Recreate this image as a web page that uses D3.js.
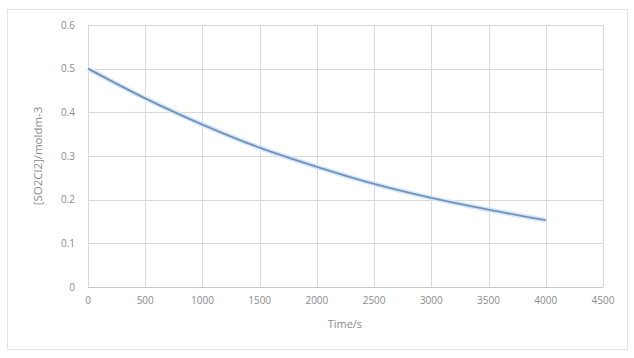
<!DOCTYPE html>
<html>
<head>
<meta charset="utf-8">
<script src="https://cdn.jsdelivr.net/npm/d3@7"></script>
<style>
  body { margin: 0; background: #fff; }
  svg { display: block; }
  text { font-family: 'Open Sans', 'Liberation Sans', sans-serif; fill: #8a8a8a; }
</style>
</head>
<body>
<svg id="chart"></svg>
<script>
// data
const times = [0, 500, 1000, 1500, 2000, 2500, 3000, 3500, 4000];
const concs = [0.5, 0.432, 0.372, 0.319, 0.275, 0.236, 0.204, 0.177, 0.153];
const xTicks = [0, 500, 1000, 1500, 2000, 2500, 3000, 3500, 4000, 4500];
const yTicks = [0, 0.1, 0.2, 0.3, 0.4, 0.5, 0.6];

const width = 634, height = 358;
const svg = d3.select('#chart').attr('width', width).attr('height', height);

// outer chart frame
svg.append('rect')
  .attr('x', 7.5).attr('y', 9.5)
  .attr('width', 620).attr('height', 340)
  .attr('fill', '#fff')
  .attr('stroke', '#e4e4e4');

const x = d3.scaleLinear().domain([0, 4500]).range([88, 603]);
const y = d3.scaleLinear().domain([0, 0.6]).range([287, 25]);

// gridlines
svg.append('g').selectAll('line.v')
  .data(xTicks)
  .enter().append('line')
  .attr('x1', (d) => Math.round(x(d)) + 0.5).attr('x2', (d) => Math.round(x(d)) + 0.5)
  .attr('y1', y(0.6)).attr('y2', y(0))
  .attr('stroke', '#d9d9d9');

svg.append('g').selectAll('line.h')
  .data(yTicks)
  .enter().append('line')
  .attr('x1', x(0)).attr('x2', x(4500))
  .attr('y1', (d) => Math.round(y(d)) + 0.5).attr('y2', (d) => Math.round(y(d)) + 0.5)
  .attr('stroke', (d) => (d === 0 ? '#c8c8c8' : '#d9d9d9'));

// tick labels
svg.append('g').selectAll('text')
  .data(xTicks)
  .enter().append('text')
  .attr('x', (d) => x(d))
  .attr('y', 304)
  .attr('text-anchor', 'middle')
  .style('font-size', '10px')
  .text((d) => d);

svg.append('g').selectAll('text')
  .data(yTicks)
  .enter().append('text')
  .attr('x', 75)
  .attr('y', (d) => y(d) + 3.5)
  .attr('text-anchor', 'end')
  .style('font-size', '10px')
  .text((d) => d);

// axis titles
svg.append('text')
  .attr('x', x(2000) + 28)
  .attr('y', 328)
  .attr('text-anchor', 'middle')
  .style('font-size', '11px')
  .text('Time/s');

svg.append('text')
  .attr('transform', `translate(42, ${y(0.3)}) rotate(-90)`)
  .attr('text-anchor', 'middle')
  .style('font-size', '11.5px')
  .text('[SO2Cl2]/moldm-3');

// series line
const line = d3.line()
  .x((d) => x(d[0]))
  .y((d) => y(d[1]))
  .curve(d3.curveMonotoneX);

const pts = times.map((t, i) => [t, concs[i]]);

svg.append('path')
  .datum(pts)
  .attr('d', line)
  .attr('fill', 'none')
  .attr('stroke', '#d6e7f7')
  .attr('stroke-width', 5);

svg.append('path')
  .datum(pts)
  .attr('d', line)
  .attr('fill', 'none')
  .attr('stroke', '#6f93bb')
  .attr('stroke-width', 1.8);
</script>
</body>
</html>
